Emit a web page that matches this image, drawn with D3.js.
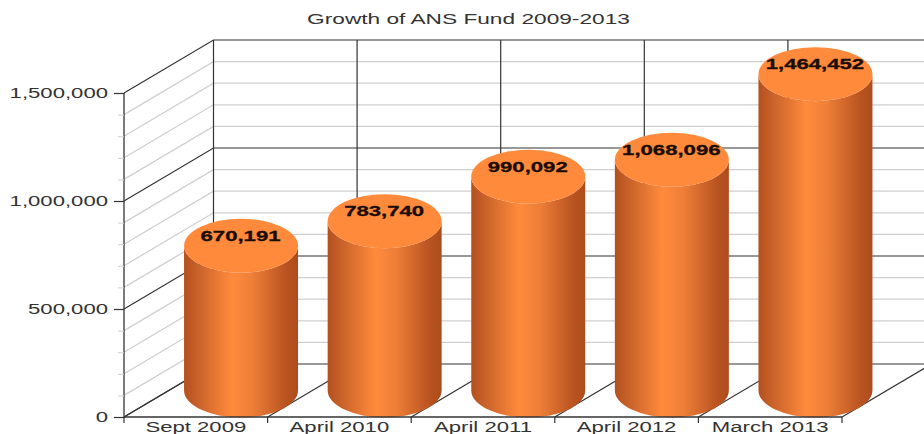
<!DOCTYPE html>
<html>
<head>
<meta charset="utf-8">
<style>
  html, body { margin: 0; padding: 0; background: #fff; overflow: hidden; }
  svg { display: block; }
  text { font-family: "Liberation Sans", Arial, sans-serif; }
</style>
<script src="https://cdn.jsdelivr.net/npm/d3@7"></script>
</head>
<body>
<script>
const chartTitle = "Growth of ANS Fund 2009-2013";
const categories = ["Sept 2009", "April 2010", "April 2011", "April 2012", "March 2013"];
const fundValues = [670191, 783740, 990092, 1068096, 1464452];
const majorTicks = [0, 500000, 1000000, 1500000];
const minorTicks = [100000, 200000, 300000, 400000, 600000, 700000, 800000, 900000,
                    1100000, 1200000, 1300000, 1400000];

const width = 924, height = 434;
const plot = { left: 124, right: 842, top: 93, bottom: 417 };
const depth = { dx: 89.5, dy: 53 };
const barRx = 57, barRy = 27;

const svg = d3.select("body").append("svg")
  .attr("width", width).attr("height", height)
  .attr("viewBox", `0 0 ${width} ${height}`);

const x = d3.scaleBand().domain(categories).range([plot.left, plot.right]);
const y = d3.scaleLinear().domain([0, 1500000]).range([plot.bottom, plot.top]);

const grad = svg.append("defs").append("linearGradient").attr("id", "barSide");
[[0, "#b4501f"], [0.12, "#c8622a"], [0.42, "#ff8a3c"], [0.6, "#ee7f38"], [0.88, "#bb5522"], [1, "#ac4c1c"]]
  .forEach(([o, c]) => grad.append("stop").attr("offset", o).attr("stop-color", c));

// stretch a text element horizontally while keeping its anchor
function stretch(sel, factor = 1.58) {
  sel.each(function () {
    this.setAttribute("textLength", this.getComputedTextLength() * factor);
    this.setAttribute("lengthAdjust", "spacingAndGlyphs");
  });
}

svg.append("text").attr("x", 468.5).attr("y", 24)
  .attr("text-anchor", "middle").attr("font-size", 14).attr("fill", "#333")
  .text(chartTitle).call(stretch, 1.62);

const grid = svg.append("g").attr("fill", "none");

// minor grid on the side wall and back wall
minorTicks.forEach(v => {
  const yf = y(v), yb = yf - depth.dy;
  grid.append("path")
    .attr("d", `M${plot.left},${yf}L${plot.left + depth.dx},${yb}H${width}`)
    .attr("stroke", "#cfcfcf").attr("stroke-width", 1.3);
});

// major grid on the side wall and back wall
majorTicks.forEach(v => {
  const yf = y(v), yb = yf - depth.dy;
  grid.append("path")
    .attr("d", `M${plot.left},${yf}L${plot.left + depth.dx},${yb}H${width}`)
    .attr("stroke", "#333").attr("stroke-width", 1.2);
});

// vertical lines on the back wall and floor lines between categories
const edges = categories.map(c => x(c)).concat(plot.right);
edges.forEach(ex => {
  grid.append("line")
    .attr("x1", ex + depth.dx).attr("x2", ex + depth.dx)
    .attr("y1", y(1500000) - depth.dy).attr("y2", y(0) - depth.dy)
    .attr("stroke", "#333").attr("stroke-width", 1.2);
  grid.append("line")
    .attr("x1", ex).attr("y1", y(0))
    .attr("x2", ex + depth.dx).attr("y2", y(0) - depth.dy)
    .attr("stroke", "#333").attr("stroke-width", 1.2);
});

// left edge of the side wall
grid.append("line")
  .attr("x1", plot.left).attr("x2", plot.left)
  .attr("y1", y(1500000)).attr("y2", y(0))
  .attr("stroke", "#333").attr("stroke-width", 1.3);

// cylinders
const barCx = c => x(c) + x.bandwidth() / 2 + depth.dx / 2 + 0.5;
const barTopY = v => y(v) - depth.dy / 2;
const barBaseY = y(0) - depth.dy / 2;

const bars = svg.append("g").selectAll("g")
  .data(categories.map((c, i) => ({ c, v: fundValues[i] })))
  .join("g");

bars.append("path")
  .attr("fill", "url(#barSide)")
  .attr("d", d => {
    const cx = barCx(d.c), t = barTopY(d.v);
    return `M${cx - barRx},${t}V${barBaseY}` +
      `A${barRx},${barRy} 0 0 0 ${cx + barRx},${barBaseY}V${t}` +
      `A${barRx},${barRy} 0 0 1 ${cx - barRx},${t}Z`;
  });

bars.append("ellipse")
  .attr("cx", d => barCx(d.c)).attr("cy", d => barTopY(d.v))
  .attr("rx", barRx).attr("ry", barRy)
  .attr("fill", "#ff8a3c");

bars.append("text")
  .attr("x", d => barCx(d.c) - 0.5).attr("y", d => barTopY(d.v) - 5)
  .attr("text-anchor", "middle").attr("font-size", 14).attr("font-weight", "bold")
  .attr("fill", "#1a0d05").attr("stroke", "#1a0d05").attr("stroke-width", 0.3)
  .text(d => d3.format(",")(d.v))
  .call(stretch);

// axes
const minorAxis = svg.append("g")
  .attr("transform", `translate(${plot.left},0)`)
  .call(d3.axisLeft(y).tickValues(minorTicks).tickSize(6).tickFormat(""));
minorAxis.select(".domain").remove();
minorAxis.selectAll("line").attr("stroke", "#cfcfcf");

const yAxis = svg.append("g")
  .attr("transform", `translate(${plot.left},0)`)
  .call(d3.axisLeft(y).tickValues(majorTicks).tickSize(10).tickPadding(6).tickFormat(d3.format(",")));
yAxis.select(".domain").remove();
yAxis.selectAll("line").attr("stroke", "#333").attr("stroke-width", 1.2);
yAxis.selectAll("text").attr("font-size", 14).attr("font-family", null)
  .attr("fill", "#333").call(stretch);

const xAxis = svg.append("g")
  .attr("transform", `translate(0,${plot.bottom})`)
  .call(d3.axisBottom(x).tickSize(0).tickPadding(5));
xAxis.select(".domain").remove();
xAxis.selectAll("text").attr("font-size", 14).attr("font-family", null)
  .attr("fill", "#333").call(stretch);

svg.append("line")
  .attr("x1", plot.left).attr("x2", plot.right).attr("y1", plot.bottom).attr("y2", plot.bottom)
  .attr("stroke", "#333").attr("stroke-width", 1.3);
svg.append("g").selectAll("line").data(edges).join("line")
  .attr("x1", d => d).attr("x2", d => d)
  .attr("y1", plot.bottom).attr("y2", plot.bottom + 6)
  .attr("stroke", "#333").attr("stroke-width", 1.2);
</script>
</body>
</html>
